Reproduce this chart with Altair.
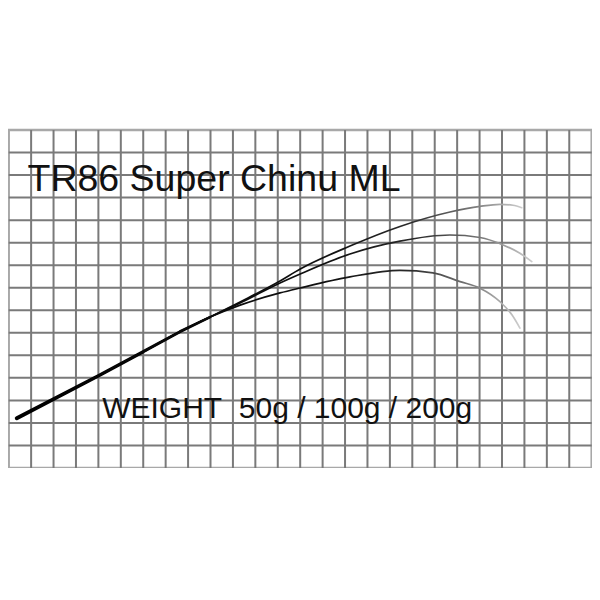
import altair as alt
import pandas as pd

# grid units: 26 columns x 15 rows
N_COLS = 26
N_ROWS = 15
grid_cols = list(range(1, N_COLS))
grid_rows = list(range(1, N_ROWS))

trunk_x = [0.36, 4.07, 6.00, 7.64, 8.98]
trunk_y = [2.21, 4.13, 5.16, 6.05, 6.70]
trunk_w = [4.4, 3.6, 3.2, 2.8, 2.2]

top_x = [10.32, 12.10, 13.00, 15.22, 17.45, 19.68, 21.02, 21.91, 22.49, 22.88]
top_y = [7.37, 8.30, 8.83, 9.85, 10.72, 11.36, 11.61, 11.70, 11.66, 11.55]

mid_x = [10.32, 12.10, 13.00, 15.22, 17.45, 19.68, 21.02, 22.05, 22.80, 23.33]
mid_y = [7.32, 8.21, 8.61, 9.50, 10.07, 10.34, 10.23, 9.90, 9.53, 9.16]

bot_x = [10.32, 12.10, 13.00, 15.22, 17.45, 18.92, 20.13, 21.02, 21.91, 22.45, 22.80]
bot_y = [7.23, 7.77, 7.99, 8.48, 8.77, 8.66, 8.27, 7.98, 7.38, 6.79, 6.21]

title_text = "TR86 Super Chinu ML"
weight_text = "WEIGHT\u00a0 50g / 100g / 200g"

rows = []
for name, xs, ys in [("50g", bot_x, bot_y), ("100g", mid_x, mid_y), ("200g", top_x, top_y)]:
    for i, (x, y) in enumerate(zip(trunk_x + xs, trunk_y + ys)):
        rows.append({"series": name, "order": i, "x": x, "y": y})
curves = pd.DataFrame(rows)
trunk = pd.DataFrame({"x": trunk_x, "y": trunk_y, "w": trunk_w, "order": range(len(trunk_x))})

xscale = alt.Scale(domain=[0, N_COLS], nice=False, zero=False)
yscale = alt.Scale(domain=[0, N_ROWS], nice=False, zero=False)

vlines = alt.Chart(pd.DataFrame({"gx": grid_cols})).mark_rule(
    color="#7a7a7a", strokeWidth=2
).encode(x=alt.X("gx:Q", scale=xscale, axis=None))

hlines = alt.Chart(pd.DataFrame({"gy": grid_rows})).mark_rule(
    color="#7a7a7a", strokeWidth=2
).encode(y=alt.Y("gy:Q", scale=yscale, axis=None))

grad = alt.LinearGradient(
    gradient="linear",
    stops=[
        alt.GradientStop(offset=0, color="#000000"),
        alt.GradientStop(offset=0.62, color="#111111"),
        alt.GradientStop(offset=0.78, color="#2a2a2a"),
        alt.GradientStop(offset=0.9, color="#777777"),
        alt.GradientStop(offset=1, color="#cccccc"),
    ],
    x1=0, x2=1, y1=0, y2=0,
)

trunk_mark = alt.Chart(trunk).mark_trail(color="#000000").encode(
    x=alt.X("x:Q", scale=xscale, axis=None),
    y=alt.Y("y:Q", scale=yscale, axis=None),
    size=alt.Size("w:Q", scale=alt.Scale(type="identity"), legend=None),
    order="order:Q",
)

lines = alt.Chart(curves).mark_line(
    stroke=grad, strokeWidth=1.7, interpolate="monotone", strokeCap="round"
).encode(
    x=alt.X("x:Q", scale=xscale, axis=None),
    y=alt.Y("y:Q", scale=yscale, axis=None),
    detail="series:N",
    order="order:Q",
)

title_mark = alt.Chart(pd.DataFrame({"x": [0.84], "y": [12.29], "t": [title_text]})).mark_text(
    align="left", baseline="alphabetic", font="Liberation Sans", fontSize=37.5, color="#111111"
).encode(x=alt.X("x:Q", scale=xscale, axis=None), y=alt.Y("y:Q", scale=yscale, axis=None), text="t:N")

weight_mark = alt.Chart(pd.DataFrame({"x": [4.17], "y": [2.21], "t": [weight_text]})).mark_text(
    align="left", baseline="alphabetic", font="Liberation Sans", fontSize=30, color="#111111"
).encode(x=alt.X("x:Q", scale=xscale, axis=None), y=alt.Y("y:Q", scale=yscale, axis=None), text="t:N")

chart = alt.layer(vlines, hlines, trunk_mark, lines, title_mark, weight_mark).properties(
    width=583,
    height=338,
    autosize=alt.AutoSizeParams(type="none"),
    padding={"left": 0.7, "top": 122, "right": 0, "bottom": 0},
    background="white",
).configure_view(stroke="#a8a8a8", strokeWidth=2.5)

chart.save("out.html", embed_options={"renderer": "svg", "actions": False})
